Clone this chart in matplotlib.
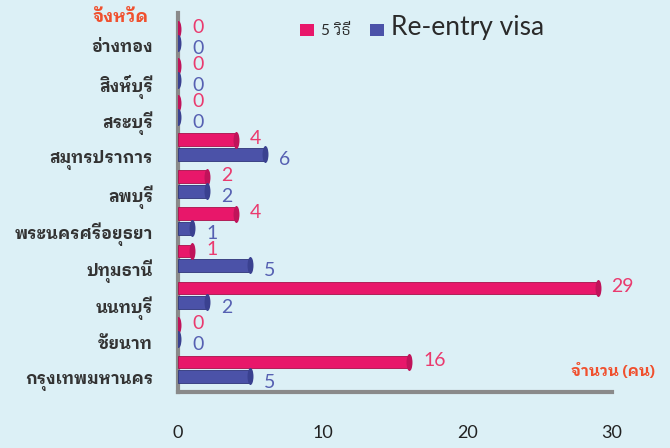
import matplotlib
matplotlib.use("Agg")
import matplotlib.pyplot as plt
from matplotlib.path import Path
from matplotlib.transforms import Affine2D
import numpy as np

provinces = ["อ่างทอง", "สิงห์บุรี", "สระบุรี", "สมุทรปราการ", "ลพบุรี",
             "พระนครศรีอยุธยา", "ปทุมธานี", "นนทบุรี", "ชัยนาท", "กรุงเทพมหานคร"]
five_ways = [0, 0, 0, 4, 2, 4, 1, 29, 0, 16]
reentry = [0, 0, 0, 6, 2, 1, 5, 2, 0, 5]
series_names = ["5 วิธี", "Re-entry visa"]
xticks = [0, 10, 20, 30]

thai = ["IBM Plex Sans Thai Looped", "DejaVu Sans"]
latin = ["Lato", "IBM Plex Sans Thai Looped", "DejaVu Sans"]
pink = "#e8176a"
pink_dark = "#a8104a"
blue = "#4b52a8"
blue_dark = "#2e3478"
pink_txt = "#ea3a6e"
blue_txt = "#5660b2"
orange = "#f0502e"

fig = plt.figure(figsize=(6.7, 4.48), dpi=100, facecolor="#dcf0f6")
ax = fig.add_axes([0.2657, 0.125, 0.6478, 0.846])
ax.set_facecolor("none")

y = np.arange(len(provinces))
h = 0.35
y_pink = y - 0.46
y_blue = y - 0.07

ax.barh(y_pink, five_ways, height=h, color=pink, edgecolor=pink_dark, linewidth=0.6,
        label=series_names[0], zorder=3)
ax.barh(y_blue, reentry, height=h, color=blue, edgecolor=blue_dark, linewidth=0.6,
        label=series_names[1], zorder=3)

# rounded 3d-ish end caps
cap = Path.unit_circle().transformed(Affine2D().scale(0.35, 1.0))
ax.scatter(five_ways, y_pink, marker=cap, s=150, color="#c0135a", zorder=4, linewidths=0)
ax.scatter(reentry, y_blue, marker=cap, s=150, color="#3a4190", zorder=4, linewidths=0)

for v, yy in zip(five_ways, y_pink):
    ax.annotate(str(v), (v, yy), xytext=(10, 1), textcoords="offset points",
                ha="left", va="center", color=pink_txt, fontsize=14, family=latin)
for v, yy in zip(reentry, y_blue):
    ax.annotate(str(v), (v, yy), xytext=(10, -4), textcoords="offset points",
                ha="left", va="center", color=blue_txt, fontsize=14, family=latin)

ax.set_xlim(0, 30)
ax.set_ylim(9.35, -0.89)
ax.set_xticks(xticks)
ax.set_xticklabels([str(t) for t in xticks], fontsize=13, color="#222222", family=latin)
ax.set_yticks(y)
ax.set_yticklabels(provinces, fontsize=12, fontweight="bold", color="#333333", family=thai)
ax.tick_params(axis="x", length=0, pad=24)
ax.tick_params(axis="y", length=0, pad=18)

for s in ["top", "right"]:
    ax.spines[s].set_visible(False)
ax.spines["left"].set_color("#8a8a8a")
ax.spines["left"].set_linewidth(3)
ax.spines["bottom"].set_color("#8a8a8a")
ax.spines["bottom"].set_linewidth(3)

fig.text(0.18, 0.962, "จังหวัด", ha="center", va="center", color=orange,
         fontsize=12.5, fontweight="bold", family=thai)
fig.text(0.978, 0.172, "จำนวน (คน)", ha="right", va="center", color=orange,
         fontsize=11, fontweight="bold", family=thai)

leg = ax.legend(loc="upper left", bbox_to_anchor=(0.25, 1.03), ncol=2, frameon=False,
                handlelength=0.9, handleheight=0.9, handletextpad=0.45, columnspacing=1.3,
                prop={"family": latin, "size": 11})
leg.get_texts()[1].set_fontsize(19)
for t in leg.get_texts():
    t.set_color("#2a2a2a")
for hd in leg.legend_handles:
    hd.set_linewidth(0)

fig.savefig("out.png", facecolor=fig.get_facecolor())
